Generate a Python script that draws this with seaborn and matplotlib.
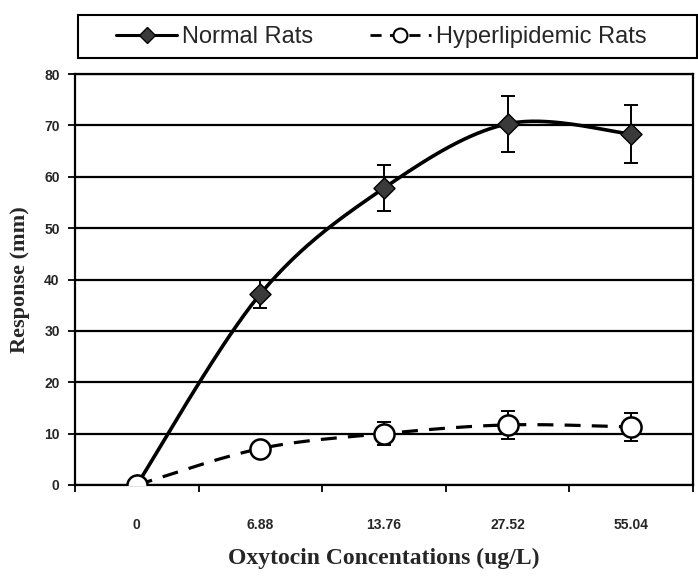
import numpy as np
import matplotlib
matplotlib.use("Agg")
import matplotlib.pyplot as plt
import seaborn as sns
from matplotlib.lines import Line2D
from matplotlib.patches import Rectangle

# ---- data ----
concentrations = ["0", "6.88", "13.76", "27.52", "55.04"]
normal_mean = [0.0, 37.2, 57.8, 70.3, 68.3]
normal_err = [0.0, 2.8, 4.5, 5.4, 5.6]
hyper_mean = [0.0, 7.1, 10.0, 11.7, 11.3]
hyper_err = [0.0, 1.0, 2.3, 2.8, 2.7]
y_ticks = [0, 10, 20, 30, 40, 50, 60, 70, 80]
series_labels = ["Normal Rats", "Hyperlipidemic Rats"]

sns.set_theme(style="white")
plt.rcParams["font.family"] = ["Liberation Sans", "DejaVu Sans"]


def smooth(xs, ys, n=40):
    """Excel-style smoothed line (Bezier / Catmull-Rom, duplicated end points)."""
    xs = np.asarray(xs, float)
    ys = np.asarray(ys, float)
    px = np.concatenate([[xs[0]], xs, [xs[-1]]])
    py = np.concatenate([[ys[0]], ys, [ys[-1]]])
    outx, outy = [], []
    for i in range(1, len(px) - 2):
        t = np.linspace(0, 1, n, endpoint=(i == len(px) - 3))
        b0 = np.array([px[i], py[i]])
        b3 = np.array([px[i + 1], py[i + 1]])
        b1 = b0 + (np.array([px[i + 1], py[i + 1]]) - np.array([px[i - 1], py[i - 1]])) / 6
        b2 = b3 - (np.array([px[i + 2], py[i + 2]]) - np.array([px[i], py[i]])) / 6
        tt = t[:, None]
        pts = ((1 - tt) ** 3) * b0 + 3 * ((1 - tt) ** 2) * tt * b1 \
            + 3 * (1 - tt) * tt ** 2 * b2 + tt ** 3 * b3
        outx.append(pts[:, 0]); outy.append(pts[:, 1])
    return np.concatenate(outx), np.concatenate(outy)


W, H = 698, 576
fig = plt.figure(figsize=(W / 100, H / 100), dpi=100)
ax = fig.add_axes([75 / W, 1 - 485 / H, (693 - 75) / W, (485 - 74) / H])

pos = np.arange(len(concentrations))

# smoothed curves
nx, ny = smooth(pos, normal_mean)
hx, hy = smooth(pos, hyper_mean)
sns.lineplot(x=nx, y=ny, sort=False, estimator=None, ax=ax, color="black",
             linewidth=2.6, zorder=3)
sns.lineplot(x=hx, y=hy, sort=False, estimator=None, ax=ax, color="black",
             linewidth=2.3, linestyle=(0, (5, 3.5)), zorder=3)

# error bars
ax.errorbar(pos[1:], normal_mean[1:], yerr=normal_err[1:], fmt="none",
            ecolor="black", elinewidth=1.4, capsize=5, capthick=1.4, zorder=4)
ax.errorbar(pos[1:], hyper_mean[1:], yerr=hyper_err[1:], fmt="none",
            ecolor="black", elinewidth=1.4, capsize=5, capthick=1.4, zorder=4)

# markers
sns.scatterplot(x=pos, y=normal_mean, marker="D", s=115, color="#3a3a3a",
                edgecolor="black", linewidth=1.0, ax=ax, zorder=5)
sns.scatterplot(x=pos, y=hyper_mean, marker="o", s=210, color="white",
                edgecolor="black", linewidth=1.8, ax=ax, zorder=6)

# axes styling
ax.set_xlim(-0.5, len(concentrations) - 0.5)
ax.set_ylim(0, 80)
ax.set_yticks(y_ticks)
ax.set_yticklabels([str(v) for v in y_ticks], fontsize=10, fontweight="bold")
ax.set_xticks(pos)
ax.set_xticklabels(concentrations, fontsize=10, fontweight="bold")
ax.set_xticks(np.arange(-0.5, len(concentrations)), minor=True)
ax.tick_params(axis="x", which="major", length=0, pad=24)
ax.tick_params(axis="x", which="minor", length=5, width=1.3, direction="out",
               color="black", bottom=True)
ax.tick_params(axis="y", length=5, width=1.3, direction="out", color="black",
               left=True, pad=6)
ax.yaxis.grid(True, color="black", linewidth=1.6)
ax.set_axisbelow(True)
for side in ["left", "bottom", "right", "top"]:
    ax.spines[side].set_visible(True)
    ax.spines[side].set_color("black")
    ax.spines[side].set_linewidth(1.6)

ax.set_xlabel("Oxytocin Concentations (ug/L)", fontsize=17, fontweight="bold",
              family=["Liberation Serif", "DejaVu Serif"], labelpad=11)
ax.set_ylabel("Response (mm)", fontsize=16, fontweight="bold",
              family=["Liberation Serif", "DejaVu Serif"], labelpad=10)

# legend box
fig.patches.append(Rectangle((78 / W, 1 - 58 / H), (697 - 78) / W, 43 / H,
                             transform=fig.transFigure, fill=False,
                             edgecolor="black", linewidth=1.5))
handles = [
    Line2D([], [], color="black", linewidth=2.2, marker="D", markersize=8,
           markerfacecolor="#3a3a3a", markeredgecolor="black"),
    Line2D([], [], color="black", linewidth=2.0, linestyle=(0, (4, 3)),
           marker="o", markersize=10, markerfacecolor="white",
           markeredgecolor="black", markeredgewidth=1.5),
]
fig.legend(handles, series_labels, loc="center left",
           bbox_to_anchor=(104 / W, 1 - 37 / H), ncol=2, frameon=False,
           fontsize=17, handlelength=2.6, handletextpad=0.2,
           columnspacing=2.4, borderpad=0.0)

fig.savefig("out.png", dpi=100)
